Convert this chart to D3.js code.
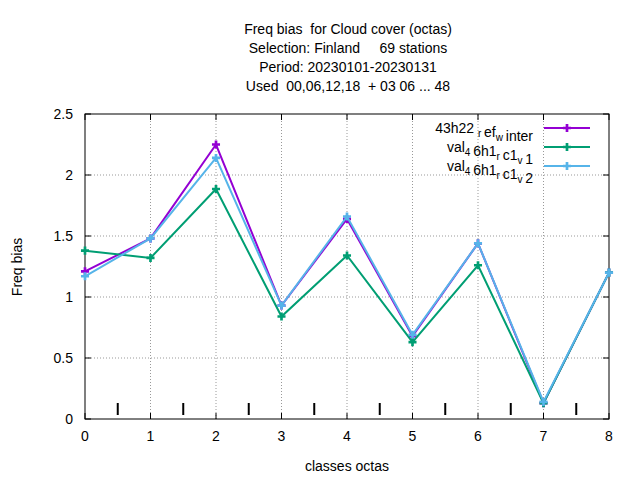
<!DOCTYPE html><html><head><script src="https://cdn.jsdelivr.net/npm/d3@7"></script>
<style>body{margin:0;background:#fff}text{font-family:"Liberation Sans",Arial,sans-serif}</style></head><body>
<svg id="c" width="640" height="480"></svg>
<script>
const categories=[0,1,2,3,4,5,6,7,8];
const xTicks=[0,1,2,3,4,5,6,7,8];
const yTicks=[0,0.5,1,1.5,2,2.5];
const s1=[1.21,1.48,2.25,0.93,1.64,0.68,1.44,0.13,1.20];
const s2=[1.38,1.32,1.885,0.84,1.34,0.63,1.26,0.13,1.20];
const s3=[1.17,1.48,2.14,0.93,1.66,0.69,1.44,0.14,1.20];
const series=[
 {parts:[["43h22 ",0],["r",1],["ef",0],["w",1],["inter",0]],v:s1,c:"#9400d3"},
 {parts:[["val",0],["4",1],["6h1",0],["r",1],["c1",0],["v",1],["1",0]],v:s2,c:"#009e73"},
 {parts:[["val",0],["4",1],["6h1",0],["r",1],["c1",0],["v",1],["2",0]],v:s3,c:"#56b4e9"}];
const svg=d3.select("#c");
const L=85,R=609,T=114,B=419;
const x=d3.scaleLinear().domain([0,8]).range([L,R]);
const y=d3.scaleLinear().domain([0,2.5]).range([B,T]);
const g=svg.append("g");
xTicks.forEach(t=>{if(t>0&&t<8)g.append("line").attr("x1",x(t)).attr("x2",x(t)).attr("y1",B).attr("y2",T).attr("stroke","#999").attr("stroke-dasharray","1,2");
 g.append("text").attr("x",x(t)).attr("y",B+22).attr("text-anchor","middle").attr("font-size",14).text(t);});
yTicks.forEach(t=>{if(t>0&&t<2.5)g.append("line").attr("x1",L).attr("x2",R).attr("y1",y(t)).attr("y2",y(t)).attr("stroke","#999").attr("stroke-dasharray","1,2");
 g.append("text").attr("x",L-12).attr("y",y(t)+5).attr("text-anchor","end").attr("font-size",14).text(t);
 g.append("line").attr("x1",L).attr("x2",L+6).attr("y1",y(t)).attr("y2",y(t)).attr("stroke","#000");
 g.append("line").attr("x1",R).attr("x2",R-6).attr("y1",y(t)).attr("y2",y(t)).attr("stroke","#000");});
xTicks.forEach(t=>{g.append("line").attr("x1",x(t)).attr("x2",x(t)).attr("y1",B).attr("y2",B-6).attr("stroke","#000");
 g.append("line").attr("x1",x(t)).attr("x2",x(t)).attr("y1",T).attr("y2",T+6).attr("stroke","#000");});
[0.5,1.5,2.5,3.5,4.5,5.5,6.5,7.5].forEach(t=>g.append("line").attr("x1",x(t)).attr("x2",x(t)).attr("y1",403).attr("y2",415).attr("stroke","#000").attr("stroke-width",2));
g.append("rect").attr("x",L).attr("y",T).attr("width",R-L).attr("height",B-T).attr("fill","none").attr("stroke","#000");
const line=d3.line().x((d,i)=>x(categories[i])).y(d=>y(d));
series.forEach((s,k)=>{
 g.append("path").attr("d",line(s.v)).attr("fill","none").attr("stroke",s.c).attr("stroke-width",2);
 s.v.forEach((d,i)=>g.append("path").attr("transform",`translate(${x(categories[i])},${y(d)})`).attr("d",d3.symbol(d3.symbolCross,36)()).attr("fill",s.c));
 const ly=128+k*19;
 g.append("line").attr("x1",544).attr("x2",590).attr("y1",ly).attr("y2",ly).attr("stroke",s.c).attr("stroke-width",2);
 g.append("path").attr("transform",`translate(567,${ly})`).attr("d",d3.symbol(d3.symbolCross,36)()).attr("fill",s.c);
 const t=g.append("text").attr("x",533).attr("y",ly+5).attr("text-anchor","end").attr("font-size",14);
 s.parts.forEach(p=>{t.append("tspan").attr("font-size",p[1]?10:14).attr("dy",p[1]?4:0).text(p[0]+(p[1]?" ":""));
   if(p[1]) t.append("tspan").attr("dy",-4).text("");});
});
["Freq bias  for Cloud cover (octas)","Selection: Finland     69 stations","Period: 20230101-20230131","Used  00,06,12,18  + 03 06 ... 48"].forEach((s,i)=>
 svg.append("text").attr("x",348).attr("y",34+i*19).attr("text-anchor","middle").attr("font-size",14).attr("xml:space","preserve").text(s));
svg.append("text").attr("x",347).attr("y",471).attr("text-anchor","middle").attr("font-size",14).text("classes octas");
svg.append("text").attr("transform","translate(22,267) rotate(-90)").attr("text-anchor","middle").attr("font-size",14).text("Freq bias");
</script></body></html>
